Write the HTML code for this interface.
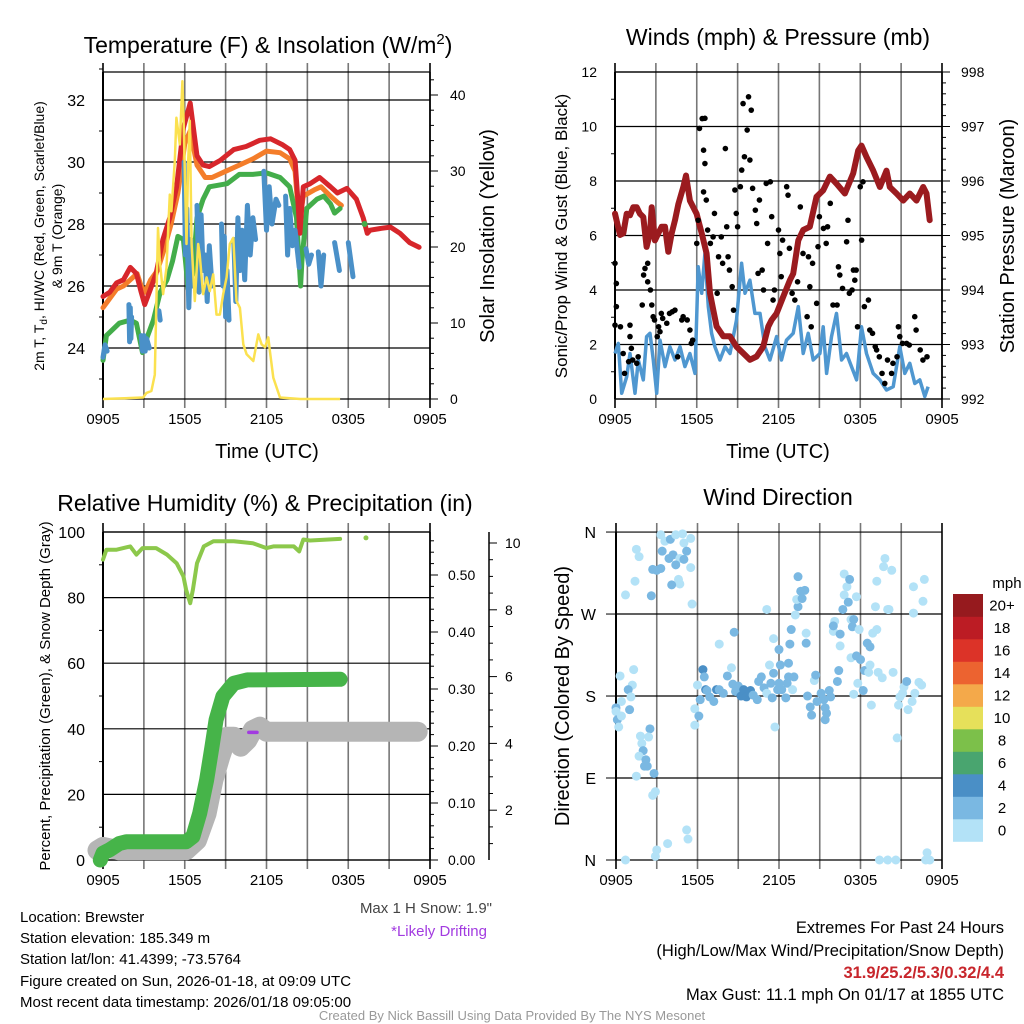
<!DOCTYPE html>
<html><head><meta charset="utf-8"><style>
html,body{margin:0;padding:0;background:#fff;}
svg{display:block;font-family:"Liberation Sans",Arial,sans-serif;}
</style></head><body>
<svg id="fig" width="1024" height="1024" viewBox="0 0 1024 1024" xmlns="http://www.w3.org/2000/svg">
<rect width="1024" height="1024" fill="#fff"/>
<text x="268" y="53" font-size="23" text-anchor="middle">Temperature (F) &amp; Insolation (W/m<tspan dy="-9" font-size="15">2</tspan><tspan dy="9">)</tspan></text>
<text x="778" y="45" font-size="23" text-anchor="middle">Winds (mph) &amp; Pressure (mb)</text>
<text x="265" y="511" font-size="23" text-anchor="middle">Relative Humidity (%) &amp; Precipitation (in)</text>
<text x="778" y="505" font-size="23" text-anchor="middle">Wind Direction</text>
<text x="267" y="458" font-size="20" text-anchor="middle">Time (UTC)</text>
<text x="778" y="458" font-size="20" text-anchor="middle">Time (UTC)</text>
<g font-size="14">
<text transform="translate(44,236) rotate(-90)" text-anchor="middle">2m T, T<tspan font-size="10" dy="3">d</tspan><tspan dy="-3">, HI/WC (Red, Green, Scarlet/Blue)</tspan></text>
<text transform="translate(62,236) rotate(-90)" text-anchor="middle">&amp; 9m T (Orange)</text>
</g>
<text transform="translate(494,236) rotate(-90)" font-size="20" text-anchor="middle">Solar Insolation (Yellow)</text>
<text transform="translate(567,236) rotate(-90)" font-size="17" text-anchor="middle">Sonic/Prop Wind &amp; Gust (Blue, Black)</text>
<text transform="translate(1014,236) rotate(-90)" font-size="20" text-anchor="middle">Station Pressure (Maroon)</text>
<text transform="translate(50,696) rotate(-90)" font-size="15" text-anchor="middle">Percent, Precipitation (Green), &amp; Snow Depth (Gray)</text>
<text transform="translate(569,696) rotate(-90)" font-size="20" text-anchor="middle">Direction (Colored By Speed)</text>
<g font-size="15">
<text x="492" y="913" text-anchor="end" fill="#444">Max 1 H Snow: 1.9"</text>
<text x="487" y="936" text-anchor="end" fill="#a23be0">*Likely Drifting</text>
<text x="20" y="922">Location: Brewster</text>
<text x="20" y="943">Station elevation: 185.349 m</text>
<text x="20" y="964">Station lat/lon: 41.4399; -73.5764</text>
<text x="20" y="986">Figure created on Sun, 2026-01-18, at 09:09 UTC</text>
<text x="20" y="1007">Most recent data timestamp: 2026/01/18 09:05:00</text>
</g>
<g font-size="16.5" text-anchor="end">
<text x="1004" y="933">Extremes For Past 24 Hours</text>
<text x="1004" y="956">(High/Low/Max Wind/Precipitation/Snow Depth)</text>
<text x="1004" y="978" fill="#c8262c" font-weight="bold">31.9/25.2/5.3/0.32/4.4</text>
<text x="1004" y="1000">Max Gust: 11.1 mph On 01/17 at 1855 UTC</text>
</g>
<text x="512" y="1020" font-size="13" text-anchor="middle" fill="#999">Created By Nick Bassill Using Data Provided By The NYS Mesonet</text>
</svg>
<script>
// ===== Panel 1 data =====
const tRedH=[0,0.5,1,1.5,2,2.45,2.8,3.06,3.4,3.9,4.4,4.9,5.4,5.9,6.4,6.9,7.35,7.8,8.6,9.6,10.5,11.5,12.3,13.2,13.7,14.1,14.3,14.45,14.7,15.2,15.9,16.7,17.2,17.9,18.6,19.1,19.4,19.6,20.3,21.1,21.8,22.5,23.2];
const tRed=[25.66,25.8,26.1,26.2,26.6,26.4,25.8,25.4,25.8,26.4,27.5,28.2,29.2,31.1,31.9,30.2,29.9,29.85,30.05,30.4,30.5,30.7,30.75,30.55,30.4,30.05,28.8,27.7,29.2,29.3,29.5,29.2,29.0,29.15,28.8,28.2,27.7,27.8,27.85,27.9,27.7,27.4,27.25];
const tOrH=[0,0.5,1,1.5,2,2.5,2.8,3.1,3.5,4,4.5,5,5.5,6,6.4,6.9,7.5,8,9,10,11,12,13,13.7,14.1,14.4,14.7,15.5,16,16.7,17.2,17.5];
const tOr=[25.3,25.6,25.9,26.0,26.2,26.4,26.0,25.8,26.2,26.5,27.2,28.0,29.0,30.6,31.0,29.9,29.5,29.5,29.7,29.9,30.1,30.35,30.3,30.1,29.7,28.0,28.9,29.1,29.2,28.9,28.7,28.6];
const tDpH=[0,0.25,1.2,2,2.45,2.9,3.2,3.7,4.2,4.7,5.1,5.5,5.9,6.25,6.6,6.9,7.35,7.8,9.1,10,11,12,13,13.7,14.2,14.5,14.6,14.95,15.7,16.2,16.7,17,17.4];
const tDp=[23.6,24.4,24.8,24.9,24.8,23.85,24.3,24.9,25.8,26.2,26.8,27.6,27.5,25.9,26.4,28.2,28.8,29.2,29.3,29.6,29.6,29.65,29.5,29.2,28.2,26.0,26.8,28.5,28.8,28.9,28.65,28.35,28.5];
const tDpDotH=[19.2], tDpDot=[28.0];
const tWcH=[0,0.15,0.3,null,1.9,1.95,2.0,2.05,2.1,null,2.8,2.9,3.0,3.1,3.2,3.4,null,4.1,4.2,null,5.95,6.05,6.15,6.3,6.45,6.55,null,6.9,7.05,7.2,7.35,7.5,7.65,7.8,8.0,null,8.7,8.8,8.9,9.0,9.1,9.25,null,9.6,9.75,9.9,10.05,10.2,10.4,10.6,10.8,11.0,11.2,null,11.8,12.0,12.2,12.4,12.7,12.9,null,13.4,13.55,13.7,13.9,null,14.1,14.4,null,14.9,15.1,15.3,null,15.8,16.0,16.2,null,17.0,17.35,null,18.0,18.35];
const tWc=[23.7,24.1,23.9,null,25.4,24.2,25.3,24.3,25.0,null,24.4,23.9,24.4,23.9,24.3,24.0,null,25.2,24.9,null,30.0,27.0,28.5,25.3,27.5,26.0,null,28.6,25.8,28.3,26.5,27.0,25.5,27.3,26.0,null,28.0,26.0,27.6,25.0,26.5,24.9,null,27.5,25.5,28.2,26.5,27.8,26.2,28.6,27.0,28.2,27.5,null,29.7,27.8,29.2,28.0,28.8,28.6,null,28.9,27.0,28.5,27.3,null,27.8,26.6,null,27.2,26.7,27.0,null,27.1,26.0,27.0,null,27.4,26.5,null,27.4,26.3];
const solH=[0,2.94,3.19,3.55,3.8,4.04,4.17,4.41,4.66,4.9,5.02,5.27,5.39,5.64,5.83,5.93,6.13,6.25,6.37,6.5,6.74,6.99,7.1,7.35,7.6,7.84,8.09,8.33,8.58,8.82,9.07,9.31,9.56,9.8,10.05,10.3,10.54,11.03,11.4,11.64,11.89,12.13,12.25,12.5,12.99,14.46,17.4];
const sol=[0,0.2,0.8,1.05,3.2,22.5,18.2,13.8,17.3,26.9,24.7,31.3,37.0,33.5,41.8,35.7,20.4,31.3,36.6,20.4,12.9,20.4,19.0,13.8,16.0,14.2,16.4,11.1,11.1,13.8,16.0,20.4,21.2,12.9,12.0,7.2,5.9,5.0,8.5,7.2,6.8,8.1,6.3,2.8,0.2,0,0];
const p1TempTicks=[24,26,28,30,32];
const p1SolTicks=[0,10,20,30,40];
const timeLabels=["0905","1505","2105","0305","0905"];
// ===== Panel 2 data =====
const presH=[0,0.37,0.61,0.86,1.10,1.34,1.59,1.83,2.08,2.32,2.57,2.69,2.93,3.18,3.42,3.67,3.91,4.16,4.40,4.65,5.01,5.21,5.50,5.99,6.36,6.72,6.97,7.21,7.46,7.95,8.44,8.92,9.41,9.90,10.39,10.88,11.25,11.49,11.86,12.35,12.84,13.08,13.45,13.81,14.30,14.79,15.28,15.77,16.26,16.87,17.48,17.85,18.09,18.46,18.95,19.44,19.93,20.17,20.66,21.15,21.64,22.13,22.62,22.86,23.10];
const pres=[995.40,995.01,995.04,995.40,995.37,995.52,995.52,995.40,995.34,994.79,995.04,995.52,994.91,995.04,995.16,995.16,994.70,995.04,995.28,995.58,995.89,996.10,995.64,995.40,995.04,994.67,993.94,993.64,993.33,993.15,993.15,992.96,992.84,992.72,992.78,992.96,993.33,993.45,993.57,993.88,994.18,994.30,994.91,995.10,995.16,995.71,995.83,996.08,995.95,995.77,996.14,996.56,996.65,996.44,996.19,995.89,996.19,995.89,995.77,995.64,995.77,995.64,995.89,995.77,995.28];
const windH=[0,0.24,0.49,0.86,1.10,1.47,1.71,2.08,2.32,2.57,2.81,3.06,3.30,3.67,4.03,4.40,4.77,5.13,5.50,5.87,6.11,6.36,6.60,6.85,7.09,7.33,7.70,8.07,8.44,8.92,9.29,9.54,9.90,10.27,10.64,11.00,11.37,11.86,12.22,12.59,13.08,13.45,13.81,14.18,14.55,15.04,15.28,15.53,15.89,16.26,16.63,16.99,17.36,17.73,18.09,18.46,18.95,19.44,19.93,20.42,20.90,21.27,21.64,22.00,22.37,22.74,22.98];
const wind=[1.67,2.04,0.21,0.82,1.67,0.21,1.43,0.70,2.29,2.41,1.43,0.21,2.16,1.19,1.92,1.43,1.92,1.19,1.67,0.94,4.85,3.88,5.34,3.39,2.41,1.92,1.43,1.92,1.67,2.90,4.98,3.88,4.36,3.14,3.14,1.92,1.43,2.29,1.43,2.16,2.41,3.39,1.67,2.41,1.43,1.67,2.65,0.94,2.29,3.14,1.43,1.67,1.19,0.70,2.65,1.67,0.94,0.70,0.33,0.45,1.92,0.94,1.31,0.57,0.70,0.09,0.45];
const gustH=[0.0,0.1,0.1,0.0,0.4,0.6,0.7,1.0,1.1,1.1,1.2,1.3,1.6,1.7,2.0,2.1,2.2,2.4,2.4,2.6,2.7,2.8,2.9,3.1,3.2,3.3,3.4,3.5,3.8,4.0,4.2,4.4,4.6,4.9,5.0,5.3,5.5,5.6,5.7,6.0,6.1,6.2,6.4,6.6,6.5,6.6,6.5,6.7,6.8,7.0,7.2,7.3,7.5,7.6,7.8,7.9,8.1,8.2,8.3,8.4,8.6,8.7,8.8,8.9,9.0,9.2,9.3,9.4,9.5,9.7,9.8,9.9,10.0,10.1,10.3,10.4,10.5,10.6,10.8,10.9,11.1,11.2,11.4,11.5,11.6,11.7,12.0,12.1,12.2,12.3,12.6,12.7,12.8,13.0,13.2,13.4,13.6,13.8,14.1,14.2,14.3,14.4,14.5,14.8,14.9,15.0,15.3,15.5,15.6,15.8,16.0,16.3,16.4,16.5,16.7,17.0,17.1,17.2,17.4,17.5,17.6,17.7,17.8,18.0,18.1,18.2,18.3,18.6,18.7,18.9,19.1,19.2,19.4,19.6,19.8,20.0,20.3,20.4,20.7,20.8,20.9,21.1,21.4,21.6,22.0,22.1,22.4,22.6,22.9];
const gust=[4.98,4.24,3.39,2.71,2.65,1.67,0.94,1.37,2.71,2.29,1.86,1.43,1.31,1.55,3.45,4.55,4.79,4.98,4.30,4.00,3.45,3.02,2.90,2.29,2.65,2.47,3.14,2.96,2.78,3.14,3.20,3.26,1.55,2.90,3.02,2.90,2.53,2.04,2.16,5.71,6.56,9.93,10.29,10.3,9.13,8.64,7.60,7.30,6.20,5.71,5.95,6.81,3.88,5.22,5.95,4.98,9.19,6.32,5.22,4.73,4.12,3.26,7.67,6.81,6.32,7.79,8.40,10.84,8.89,9.87,11.09,8.77,10.6,7.73,6.93,6.44,4.61,7.30,4.73,4.00,7.91,5.71,7.97,6.69,3.63,4.00,6.20,5.34,4.49,5.83,7.79,7.48,5.53,3.88,3.63,4.30,7.05,5.34,3.02,5.22,4.12,2.65,4.98,3.51,5.59,6.69,6.26,5.71,6.32,7.18,3.45,3.45,4.85,4.55,4.06,5.77,6.56,3.88,4.00,4.73,4.36,4.73,2.65,7.79,5.83,7.97,3.39,3.63,2.53,2.41,1.92,1.80,1.55,0.94,0.57,1.43,0.94,1.31,1.55,2.65,2.29,2.04,2.04,1.98,3.02,2.53,1.80,1.43,1.55];
const p2WindTicks=[0,2,4,6,8,10,12];
const p2PresTicks=[992,993,994,995,996,997,998];
// ===== Panel 3 data =====
const rhH=[0,0.25,1.0,2.0,2.45,2.9,3.9,4.7,5.4,5.9,6.1,6.4,6.6,6.9,7.4,8.1,9.6,11.0,12.0,12.5,14.0,14.4,14.7,15.2,17.4];
const rh=[91.6,94.6,94.6,95.6,93.1,95.1,95.1,93.1,90.5,86.5,82.4,78.3,82.4,90.5,95.6,97.2,97.2,96.6,95.1,95.6,95.6,94.1,97.7,97.4,97.9];
const rhDotH=[19.3], rhDot=[98.2];
const precipH=[-0.2,0,0.5,1.2,1.7,6.1,6.6,7.1,7.6,8.0,8.3,8.8,9.6,10.6,17.4];
const precip=[0,0.012,0.018,0.029,0.032,0.032,0.041,0.082,0.14,0.199,0.246,0.287,0.31,0.316,0.317];
const snowH=[-0.4,0,1.2,6.1,6.9,7.6,8.1,8.6,9.1,9.6,10.1,10.6,11.0,11.5,12.0,23.1];
const snow=[0.8,0.9,0.8,0.8,1.1,1.9,2.9,3.6,4.2,4.2,3.9,4.1,4.4,4.5,4.35,4.35];
const driftH=[10.7,11.3], drift=[4.33,4.33];
const p3RhTicks=[0,20,40,60,80,100];
const p3PrecipTicks=["0.00","0.10","0.20","0.30","0.40","0.50"];
const p3SnowTicks=[2,4,6,8,10];
// ===== Panel 4 data =====
const dirH=[0.7,1.5,1.7,0.7,1.4,3.3,3.6,4.0,4.4,4.9,5.5,5.0,3.4,3.9,4.2,4.7,5.2,5.0,2.7,3.0,3.3,4.4,4.6,4.7,4.1,5.5,2.6,5.6,0.3,1.3,1.2,0.9,1.1,0.4,0.0,0.0,0.1,0.2,0.4,1.0,1.8,1.9,2.5,2.4,2.0,1.7,2.2,2.3,2.1,2.8,1.5,2.9,2.7,3.0,2.9,3.8,5.2,5.3,5.8,5.8,6.0,6.2,6.1,6.4,6.5,6.6,6.7,6.9,7.2,7.4,7.6,7.9,8.2,8.5,8.6,8.8,9.0,9.2,9.4,9.6,9.9,10.1,10.4,10.5,10.7,10.9,11.1,11.4,11.6,11.5,11.7,11.9,12.0,12.2,12.5,12.6,12.7,13.0,13.1,12.1,12.7,11.6,12.0,11.3,11.1,7.6,8.7,12.8,12.9,14.0,14.0,13.4,13.2,13.3,13.6,13.9,13.7,13.4,14.1,14.3,14.4,14.6,14.7,14.8,15.1,15.3,15.4,15.5,15.4,15.7,15.8,16.3,16.4,16.0,16.1,16.0,16.5,16.5,16.7,16.8,17.0,16.8,17.2,17.1,17.3,17.5,17.4,17.7,17.9,17.3,17.7,18.0,18.5,18.7,17.8,17.5,18.2,18.3,18.6,18.7,18.8,18.9,19.2,19.1,19.2,19.7,19.8,20.3,20.0,20.1,19.3,19.6,20.4,20.7,20.8,20.9,21.1,21.2,21.4,21.5,21.8,22.0,22.3,22.5,21.9,21.9,22.6,22.7,19.4,20.0,20.6,22.9,22.8,23.1];
const dirDeg=[0,341,333,291,306,357,350,352,357,358,353,348,339,331,335,331,339,330,319,318,320,324,308,303,302,321,290,281,202,209,192,187,179,174,167,163,154,146,158,165,136,128,144,135,120,114,110,103,103,95,92,75,71,11,4,18,33,23,166,148,192,176,158,209,201,187,186,179,174,187,187,183,202,211,193,185,191,180,187,179,186,181,176,196,201,189,183,194,205,178,146,187,194,187,178,194,201,187,201,214,216,243,231,214,275,237,250,237,253,249,238,278,269,286,295,296,287,311,180,168,159,197,203,174,183,176,167,161,154,186,179,196,208,251,262,257,248,235,275,291,300,314,308,283,264,264,256,289,253,222,224,220,238,234,194,182,186,208,206,214,170,249,253,278,306,322,331,318,275,275,206,200,206,134,170,179,183,190,196,165,174,183,195,192,271,300,284,308,0,0,0,8,0,0];
const dirSpd=[1,1,1,1,1,1,1,3,1,1,1,1,3,3,3,1,3,3,3,3,3,3,1,1,3,1,3,1,1,1,1,3,1,1,3,1,3,1,1,3,1,1,3,1,3,1,3,3,3,3,1,1,1,1,1,1,1,1,1,1,1,3,3,5,3,5,3,3,3,5,3,3,3,1,3,3,3,5,5,5,5,3,3,3,3,3,1,3,3,3,1,3,3,3,3,3,3,1,3,3,3,1,3,1,1,1,3,3,3,1,3,3,1,1,3,3,3,3,3,3,3,1,3,3,3,3,3,3,3,3,3,3,3,1,1,3,3,1,3,1,1,1,3,3,1,3,3,1,1,1,3,3,3,3,1,1,3,3,1,1,1,1,1,1,1,1,1,1,1,1,1,1,1,1,1,1,1,1,3,1,1,1,1,1,1,1,1,1,1,1,1,1,1,1,1,1];
const dirTicks=["N","E","S","W","N"];
const dirTickDeg=[0,90,180,270,360];
const cbLabels=["0","2","4","6","8","10","12","14","16","18","20+"];
const cbColors=["#b3e2f7","#7ab8e2","#4a8fc6","#49a56f","#7cc04a","#e6e05a","#f4a94a","#ec6330","#dc3328","#bc1c24","#961a1e"];

const NS="http://www.w3.org/2000/svg";
const svg=document.getElementById('fig');
function mk(tag,attrs,parent){const e=document.createElementNS(NS,tag);for(const k in attrs)e.setAttribute(k,attrs[k]);(parent||svg).appendChild(e);return e;}
function txt(x,y,s,size,anchor,parent){const t=mk('text',{x:x,y:y,'font-size':size,'text-anchor':anchor||'middle'},parent);t.textContent=s;return t;}
function pathFrom(xs,ys,fx,fy){let d='',pen=false;for(let i=0;i<xs.length;i++){if(xs[i]===null||ys[i]===null){pen=false;continue;}d+=(pen?'L':'M')+fx(xs[i]).toFixed(1)+','+fy(ys[i]).toFixed(1);pen=true;}return d;}

function frame(L,R,T,B,name,hLines){
  const g=mk('g',{});
  
  
  const fx=h=>L+(h/24)*(R-L);
  for(let k=0;k<=8;k++){const x=fx(k*3);mk('line',{x1:x,x2:x,y1:T-9,y2:B+9,stroke:(k===0||k===8)?'#000':'#777','stroke-width':1.6},g);}
  hLines.forEach(y=>{mk('line',{x1:L,x2:R,y1:y,y2:y,stroke:'#000','stroke-width':1.2},g);});
  mk('line',{x1:L,x2:L,y1:T,y2:B,stroke:'#000','stroke-width':2},g);
  for(let k=0;k<5;k++){const t=txt(fx(k*6),B+25,timeLabels[k],15,'middle',g);}
  return fx;
}

// ===== Panel 1 =====
(function(){
  const L=103,R=430,T=72,B=399;
  const fy=v=>348-(v-24)*31, fs=v=>399-v*7.6;
  const fx=frame(L,R,T,B,'temperature-panel',[T,B].concat(p1TempTicks.map(fy)));
  const ax=mk('g',{});
  
  
  for(let v=23;v<=33;v++){mk('line',{x1:L-(v%2?4:0),x2:L,y1:fy(v),y2:fy(v),stroke:'#000'},ax);}
  p1TempTicks.forEach(v=>{const t=txt(L-18,fy(v)+6,String(v),16,'end',ax);});
  mk('line',{x1:R,x2:R,y1:T,y2:B,stroke:'#000','stroke-width':1.5},ax);
  for(let v=0;v<=42;v+=2){mk('line',{x1:R,x2:R+(v%10?4:8),y1:fs(v),y2:fs(v),stroke:'#000'},ax);}
  p1SolTicks.forEach(v=>{const t=txt(R+20,fs(v)+5,String(v),14,'start',ax);});
  const defs=[[tOrH,tOr,'#f47d2a','orange-9m-temp-line'],[tDpH,tDp,'#43ad4a','green-dewpoint-line'],[tRedH,tRed,'#d7262b','red-temp-line']];
  defs.forEach(d=>{const p=mk('path',{d:pathFrom(d[0],d[1],fx,fy),fill:'none',stroke:d[2],'stroke-width':5,'stroke-linejoin':'round','stroke-linecap':'round'});});
  const wc=mk('path',{d:pathFrom(tWcH,tWc,fx,fy),fill:'none',stroke:'#4a90c8','stroke-width':5,'stroke-linejoin':'round','stroke-linecap':'round'});
  
  
  const dot=mk('circle',{cx:fx(tDpDotH[0]),cy:fy(tDpDot[0]),r:3,fill:'#43ad4a'});
  
  
  const ys=mk('path',{d:pathFrom(solH,sol,fx,fs),fill:'none',stroke:'#fbe14f','stroke-width':2.5,'stroke-linejoin':'round'});
  
  
})();

// ===== Panel 2 =====
(function(){
  const L=615,R=942,T=72,B=399;
  const fy=v=>399-v*27.25, fp=p=>399-(p-992)*54.5;
  const fx=frame(L,R,T,B,'winds-panel',[T,B].concat(p2WindTicks.map(fy)));
  const ax=mk('g',{});
  
  
  for(let v=0;v<=12;v++){mk('line',{x1:L-(v%2?4:0),x2:L,y1:fy(v),y2:fy(v),stroke:'#000'},ax);}
  p2WindTicks.forEach(v=>{const t=txt(L-18,fy(v)+5,String(v),14,'end',ax);});
  mk('line',{x1:R,x2:R,y1:T,y2:B,stroke:'#000','stroke-width':1.5},ax);
  for(let p=992;p<=998.001;p+=0.2){const maj=Math.abs(p-Math.round(p))<0.01;mk('line',{x1:R,x2:R+(maj?8:4),y1:fp(p),y2:fp(p),stroke:'#000'},ax);}
  p2PresTicks.forEach(v=>{const t=txt(R+19,fp(v)+5,String(v),14,'start',ax);});
  const w=mk('path',{d:pathFrom(windH,wind,fx,fy),fill:'none',stroke:'#4f97d0','stroke-width':3.5,'stroke-linejoin':'round'});
  
  
  const pl=mk('path',{d:pathFrom(presH,pres,fx,fp),fill:'none',stroke:'#9b1b1f','stroke-width':6,'stroke-linejoin':'round','stroke-linecap':'round'});
  
  
  const g=mk('g',{fill:'#000'});
  
  
  for(let i=0;i<gust.length;i++){const c=mk('circle',{cx:fx(gustH[i]),cy:fy(gust[i]),r:2.8},g);}
})();

// ===== Panel 3 =====
(function(){
  const L=103,R=430,T=532,B=860;
  const fy=v=>860-v*3.28, fpr=v=>860-v*570, fsn=v=>877-v*33.4;
  const fx=frame(L,R,T,B,'humidity-panel',[T,B].concat(p3RhTicks.map(fy)));
  const ax=mk('g',{});
  
  
  for(let v=0;v<=100;v+=10){mk('line',{x1:L-(v%20?4:0),x2:L,y1:fy(v),y2:fy(v),stroke:'#000'},ax);}
  p3RhTicks.forEach(v=>{const t=txt(L-18,fy(v)+6,String(v),16,'end',ax);});
  mk('line',{x1:R,x2:R,y1:T,y2:B,stroke:'#000','stroke-width':1.5},ax);
  for(let k=0;k<=28;k++){const v=k*0.02;mk('line',{x1:R,x2:R+(k%5?4:8),y1:fpr(v),y2:fpr(v),stroke:'#000'},ax);}
  p3PrecipTicks.forEach(s=>{const t=txt(R+18,fpr(parseFloat(s))+5,s,14,'start',ax);});
  const SX=489;
  mk('line',{x1:SX,x2:SX,y1:T,y2:B,stroke:'#000','stroke-width':1.5},ax);
  for(let k=2;k<=20;k++){const v=k*0.5;mk('line',{x1:SX,x2:SX+(k%4?4:8),y1:fsn(v),y2:fsn(v),stroke:'#000'},ax);}
  p3SnowTicks.forEach(v=>{const t=txt(SX+16,fsn(v)+5,String(v),14,'start',ax);});
  const sn=mk('path',{d:pathFrom(snowH,snow,fx,fsn),fill:'none',stroke:'#b5b5b5','stroke-width':20,'stroke-linejoin':'round','stroke-linecap':'round'});
  
  
  const pr=mk('path',{d:pathFrom(precipH,precip,fx,fpr),fill:'none',stroke:'#46b449','stroke-width':15,'stroke-linejoin':'round','stroke-linecap':'round'});
  
  
  const dr=mk('path',{d:pathFrom(driftH,drift,fx,fsn),fill:'none',stroke:'#a23be0','stroke-width':3.5,'stroke-linecap':'round'});
  
  
  const r=mk('path',{d:pathFrom(rhH,rh,fx,fy),fill:'none',stroke:'#8cc84b','stroke-width':4,'stroke-linejoin':'round','stroke-linecap':'round'});
  
  
  const d=mk('circle',{cx:fx(rhDotH[0]),cy:fy(rhDot[0]),r:2.5,fill:'#8cc84b'});
  
  
})();

// ===== Panel 4 =====
(function(){
  const L=616,R=942,T=532,B=860;
  const fy=d=>860-d*0.911;
  const fx=frame(L,R,T,B,'direction-panel',dirTickDeg.map(fy));
  const ax=mk('g',{});
  
  
  dirTicks.forEach((s,i)=>{mk('line',{x1:L-10,x2:L,y1:fy(dirTickDeg[i]),y2:fy(dirTickDeg[i]),stroke:'#000'},ax);const t=txt(L-20,fy(dirTickDeg[i])+6,s,16,'end',ax);});
  const g=mk('g',{});
  
  
  for(let i=0;i<dirH.length;i++){
    const bin=Math.min(10,Math.floor(dirSpd[i]/2));
    const c=mk('circle',{cx:fx(dirH[i]),cy:fy(dirDeg[i]),r:4.5,fill:cbColors[bin]},g);
    
    
  }
  const cb=mk('g',{});
  
  
  const top=594,h=22.5;
  for(let k=0;k<11;k++){
    const y=top+(10-k)*h;
    const rc=mk('rect',{x:953,y:y,width:30,height:h+0.3,fill:cbColors[k]},cb);
    
    
    const t=txt(1002,y+h/2+5,cbLabels[k],15,'middle',cb);
    
    
  }
  const u=txt(1007,588,'mph',15,'middle',cb);
  
  
})();
</script>
</body></html>
